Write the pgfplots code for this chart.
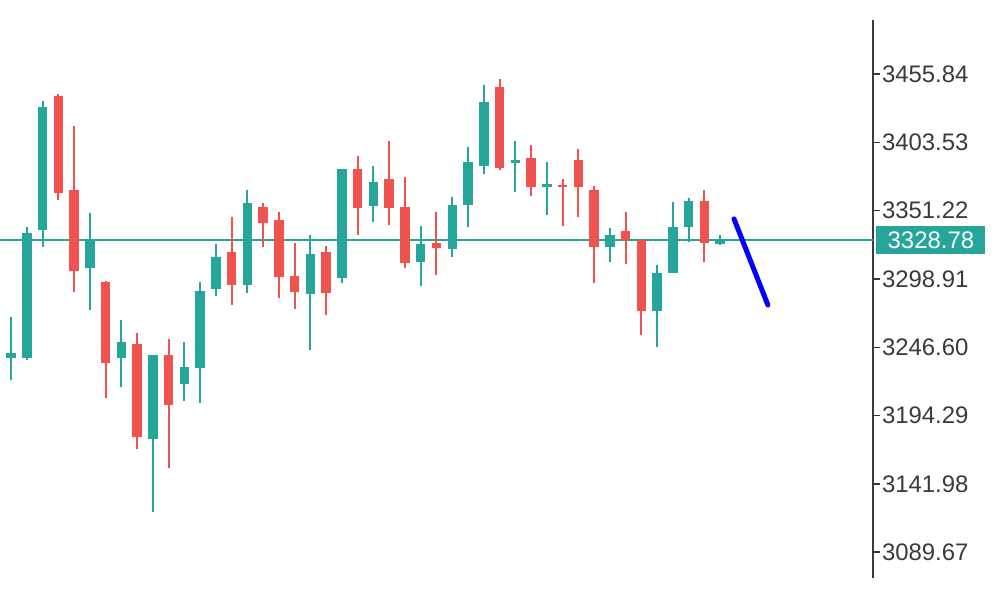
\documentclass[border=0pt]{standalone}
\usepackage{fontspec}
\setmainfont{Liberation Sans}
\usepackage{pgfplots}
\usepackage{pgfplotstable}
\pgfplotsset{compat=1.18}

\definecolor{upcol}{HTML}{26A69A}
\definecolor{downcol}{HTML}{EF5350}
\definecolor{axcol}{HTML}{3A3A3A}

% i = bar index, o/h/l/c = open, high, low, close
\pgfplotstableread{
i  o       h       l       c
1  3238.4  3269.8  3221.6  3242.2
2  3238.4  3338.7  3236.9  3334.1
3  3336.4  3435.2  3323.4  3430.6
6  3307.3  3349.5  3275.2  3328.0
8  3238.4  3267.5  3216.2  3250.7
10 3176.4  3240.7  3120.5  3240.7
12 3218.5  3250.7  3205.5  3231.5
13 3230.8  3296.6  3203.9  3289.7
14 3291.3  3325.7  3285.9  3315.8
16 3294.3  3367.1  3288.2  3357.1
20 3287.4  3332.6  3244.5  3318.1
22 3299.7  3383.2  3295.8  3383.2
24 3354.8  3385.5  3342.6  3373.2
27 3311.9  3339.5  3293.6  3325.7
29 3321.9  3361.7  3315.8  3355.6
30 3355.6  3400.0  3338.7  3388.5
31 3385.5  3447.5  3379.3  3434.5
33 3387.8  3404.6  3365.5  3390.0
35 3369.4  3388.5  3347.9  3371.7
39 3323.4  3338.0  3311.9  3332.6
42 3274.4  3309.6  3246.8  3303.5
43 3303.5  3357.9  3303.5  3338.7
44 3338.7  3361.0  3327.2  3358.6
46 3325.7  3332.6  3325.0  3328.8
}\upbars

\pgfplotstableread{
i  o       h       l       c
4  3439.1  3440.6  3359.4  3364.8
5  3367.1  3416.1  3289.0  3305.0
7  3296.6  3297.4  3207.8  3234.6
9  3249.1  3257.6  3168.7  3177.9
11 3240.7  3253.0  3154.2  3202.4
15 3319.6  3346.4  3279.0  3294.3
17 3354.1  3357.1  3323.4  3341.8
18 3344.1  3350.2  3284.4  3300.4
19 3301.2  3326.5  3275.9  3289.0
21 3319.6  3324.2  3271.3  3288.2
23 3383.2  3393.1  3332.6  3353.3
25 3375.5  3404.6  3340.3  3353.3
26 3354.1  3377.0  3307.3  3311.2
28 3326.5  3350.2  3302.0  3322.7
32 3446.0  3452.1  3382.4  3383.9
34 3391.6  3401.5  3362.5  3369.4
36 3370.9  3375.5  3339.5  3369.4
37 3390.0  3398.5  3346.4  3369.4
38 3367.1  3370.1  3295.8  3323.4
40 3335.7  3350.2  3310.4  3328.8
41 3328.8  3328.8  3256.0  3274.4
45 3358.6  3367.1  3311.9  3326.5
}\downbars

\begin{document}
\begin{tikzpicture}
\useasboundingbox (0,0) rectangle (500bp,300bp);
\begin{axis}[
    at={(0,11bp)}, anchor=south west,
    scale only axis,
    width=436.5bp, height=279bp,
    xmin=0.302, xmax=55.70,
    ymin=3069.92, ymax=3497.27,
    axis x line=none,
    axis y line=right,
    axis line style={-, draw=axcol, line width=0.9bp},
    ytick={3089.67,3141.98,3194.29,3246.60,3298.91,3351.22,3403.53,3455.84},
    tick align=outside,
    major tick length=3.5bp,
    ytick style={draw=axcol, line width=0.8bp},
    yticklabel style={font=\fontsize{12}{14}\selectfont, color=axcol, xshift=-2.5bp},
    /pgf/number format/.cd, fixed, fixed zerofill, precision=2, 1000 sep={}, assume math mode=true,
    /pgfplots/.cd,
    clip=false,
    error bars/error mark=none,
    candle/.style 2 args={draw=none, mark=none, forget plot,
        error bars/.cd, y dir=both, y explicit,
        error bar style={draw=#1, line width=#2}, /pgfplots/.cd},
]
% current price line
\addplot[upcol, line width=1.2bp, forget plot] coordinates {(0.302,3328.78)(55.70,3328.78)};

% wicks
\addplot[candle={upcol}{1bp}]
    table[x=i, y expr={(\thisrow{h}+\thisrow{l})/2}, y error expr={(\thisrow{h}-\thisrow{l})/2}] {\upbars};
\addplot[candle={downcol}{1bp}]
    table[x=i, y expr={(\thisrow{h}+\thisrow{l})/2}, y error expr={(\thisrow{h}-\thisrow{l})/2}] {\downbars};

% bodies
\addplot[candle={upcol}{4.75bp}]
    table[x=i, y expr={(\thisrow{o}+\thisrow{c})/2}, y error expr={abs(\thisrow{c}-\thisrow{o})/2}] {\upbars};
\addplot[candle={downcol}{4.75bp}]
    table[x=i, y expr={(\thisrow{o}+\thisrow{c})/2}, y error expr={abs(\thisrow{o}-\thisrow{c})/2}] {\downbars};

% drawn trend line
\addplot[blue, line width=2.5bp, line cap=round] coordinates {(46.88,3344.9)(49.03,3279.0)};

% price tag
\node[fill=upcol, text=white, anchor=west, minimum width=54.5bp, minimum height=14bp,
      inner sep=0pt, font=\fontsize{12}{14}\selectfont]
      at ([xshift=1.5bp]axis cs:55.70,3328.78) {3328.78};
\end{axis}
\end{tikzpicture}
\end{document}
